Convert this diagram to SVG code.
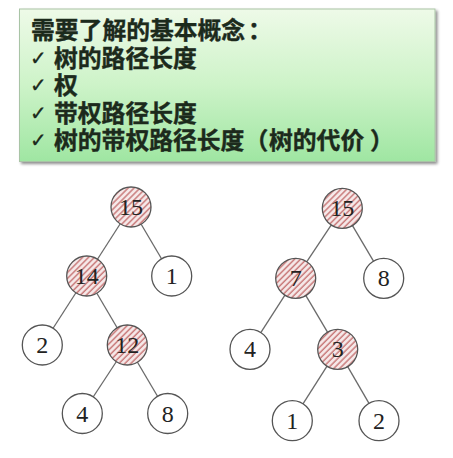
<svg xmlns="http://www.w3.org/2000/svg" width="453" height="458" viewBox="0 0 453 458">
<defs>
<linearGradient id="boxg" x1="0" y1="0" x2="0" y2="1">
<stop offset="0" stop-color="#eefae8"/>
<stop offset="0.5" stop-color="#cdf3c8"/>
<stop offset="1" stop-color="#9fe6a2"/>
</linearGradient>
<pattern id="hatch" patternUnits="userSpaceOnUse" width="4.2" height="4.2" patternTransform="rotate(45)">
<rect width="4.2" height="4.2" fill="#f6eaea"/>
<line x1="1" y1="0" x2="1" y2="4.2" stroke="#c97b7b" stroke-width="1.5"/>
</pattern>
<filter id="sh" x="-5%" y="-5%" width="112%" height="115%">
<feGaussianBlur in="SourceAlpha" stdDeviation="1.5"/>
<feOffset dx="1.5" dy="2" result="b"/>
<feComponentTransfer><feFuncA type="linear" slope="0.45"/></feComponentTransfer>
<feMerge><feMergeNode/><feMergeNode in="SourceGraphic"/></feMerge>
</filter>
</defs>
<style>
.t{font-family:"Noto Sans CJK SC","Noto Sans",sans-serif;font-weight:bold;font-size:23.8px;fill:#1c2a1c;stroke:#1c2a1c;stroke-width:0.4;text-spacing-trim:space-all}
.ck{font-family:"DejaVu Sans",sans-serif;font-size:20px;font-weight:normal;stroke-width:0.3}
.n{fill:#fff;stroke:#555;stroke-width:1.3}
.h{fill:url(#hatch);stroke:#555;stroke-width:1.3}
.lb{font-family:"Liberation Serif",serif;font-size:24px;fill:#222;text-anchor:middle;dominant-baseline:central}
.e{stroke:#6a6a6a;stroke-width:1.3}
</style>
<rect width="453" height="458" fill="#fff"/>
<g id="concepts">
<rect x="19.5" y="9" width="415.5" height="152.5" fill="url(#boxg)" stroke="#a9c4a6" stroke-width="1" filter="url(#sh)"/>
<text class="t"><tspan x="31" y="39">需要了解的基本概念</tspan><tspan x="248" y="39">：</tspan><tspan class="ck" x="30" y="64.5">✓</tspan><tspan x="54" y="66.5">树的路径长度</tspan><tspan class="ck" x="30" y="92">✓</tspan><tspan x="54" y="94">权</tspan><tspan class="ck" x="30" y="119.5">✓</tspan><tspan x="54" y="121.5">带权路径长度</tspan><tspan class="ck" x="30" y="147">✓</tspan><tspan x="54" y="149">树的带权路径长度</tspan><tspan x="244.6" y="149">（</tspan><tspan x="269" y="149">树的代价</tspan><tspan x="370" y="149">）</tspan></text>
</g>
<g id="connectors">
<line class="e" x1="131" y1="207" x2="86.7" y2="276"/>
<line class="e" x1="131" y1="207" x2="171.7" y2="276"/>
<line class="e" x1="86.7" y1="276" x2="42.3" y2="345"/>
<line class="e" x1="86.7" y1="276" x2="127.3" y2="345"/>
<line class="e" x1="127.3" y1="345" x2="82.3" y2="413.5"/>
<line class="e" x1="127.3" y1="345" x2="167.7" y2="413.5"/>
<line class="e" x1="342.3" y1="208.3" x2="295.7" y2="278.3"/>
<line class="e" x1="342.3" y1="208.3" x2="383.7" y2="278.3"/>
<line class="e" x1="295.7" y1="278.3" x2="250" y2="349.3"/>
<line class="e" x1="295.7" y1="278.3" x2="337.7" y2="349.3"/>
<line class="e" x1="337.7" y1="349.3" x2="292.3" y2="420.7"/>
<line class="e" x1="337.7" y1="349.3" x2="379" y2="420.7"/>
</g>
<g id="L15"><circle class="h" cx="131" cy="207" r="20"/><text class="lb" x="131" y="207">15</text></g>
<g id="L14"><circle class="h" cx="86.7" cy="276" r="20"/><text class="lb" x="86.7" y="276">14</text></g>
<g id="L1"><circle class="n" cx="171.7" cy="276" r="20"/><text class="lb" x="171.7" y="276">1</text></g>
<g id="L2"><circle class="n" cx="42.3" cy="345" r="20"/><text class="lb" x="42.3" y="345">2</text></g>
<g id="L12"><circle class="h" cx="127.3" cy="345" r="20"/><text class="lb" x="127.3" y="345">12</text></g>
<g id="L4"><circle class="n" cx="82.3" cy="413.5" r="20"/><text class="lb" x="82.3" y="413.5">4</text></g>
<g id="L8"><circle class="n" cx="167.7" cy="413.5" r="20"/><text class="lb" x="167.7" y="413.5">8</text></g>
<g id="R15"><circle class="h" cx="342.3" cy="208.3" r="20"/><text class="lb" x="342.3" y="208.3">15</text></g>
<g id="R7"><circle class="h" cx="295.7" cy="278.3" r="20"/><text class="lb" x="295.7" y="278.3">7</text></g>
<g id="R8"><circle class="n" cx="383.7" cy="278.3" r="20"/><text class="lb" x="383.7" y="278.3">8</text></g>
<g id="R4"><circle class="n" cx="250" cy="349.3" r="20"/><text class="lb" x="250" y="349.3">4</text></g>
<g id="R3"><circle class="h" cx="337.7" cy="349.3" r="20"/><text class="lb" x="337.7" y="349.3">3</text></g>
<g id="R1"><circle class="n" cx="292.3" cy="420.7" r="20"/><text class="lb" x="292.3" y="420.7">1</text></g>
<g id="R2"><circle class="n" cx="379" cy="420.7" r="20"/><text class="lb" x="379" y="420.7">2</text></g>
</svg>
